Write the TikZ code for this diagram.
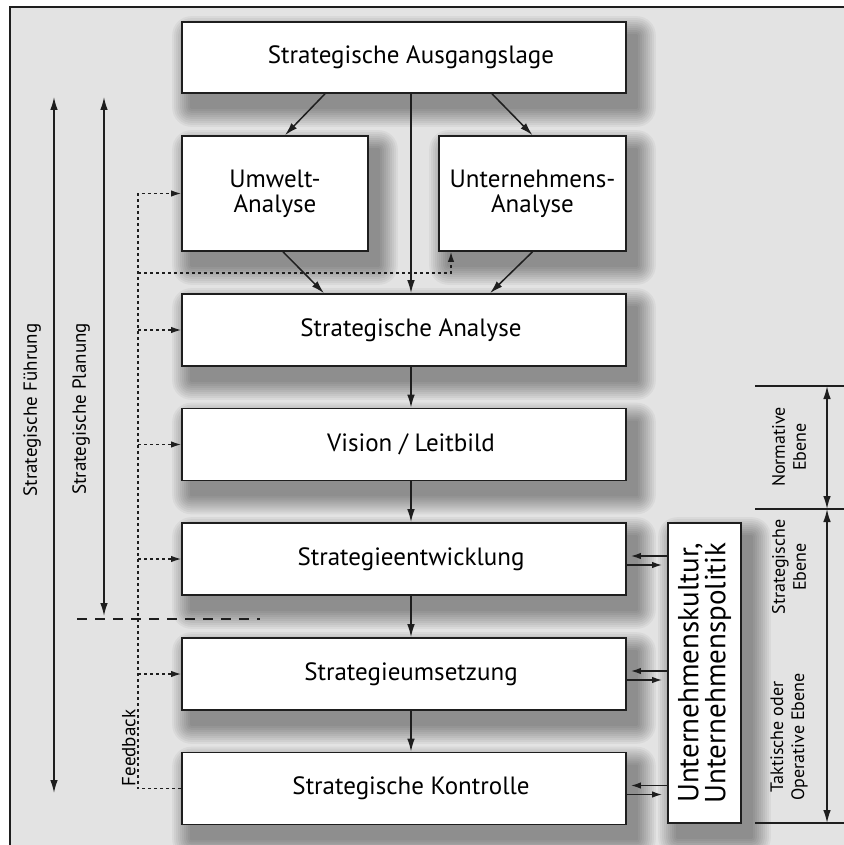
\documentclass[tikz,border=0pt]{standalone}
\usepackage{fontspec}
\setmainfont{PT Sans}
\usetikzlibrary{arrows.meta}
\pgfdeclarelayer{frame}
\pgfdeclarelayer{shade}
\pgfsetlayers{frame,shade,main}
\definecolor{bg}{HTML}{E3E3E3}
\definecolor{ink}{HTML}{1E1E1E}
% soft drop shadow built from stacked translucent rectangles
\newcommand\softshadow[1]{%
  \foreach \r in {0.5,1.5,...,10.0}{%
    \fill[black, opacity=0.045, rounded corners=\r pt]
      ([shift={(5pt-\r pt,-7pt-\r pt)}]#1.south west) rectangle
      ([shift={(5pt+\r pt,-7pt+\r pt)}]#1.north east);
  }%
}
\begin{document}
\begin{tikzpicture}[x=0.5pt,y=-0.5pt,
  box/.style={draw=ink, line width=0.8pt, fill=white, inner sep=0pt, align=center,
    font=\fontsize{12.5}{12.5}\selectfont},
  boxtext/.style={font=\fontsize{12.5}{12.5}\selectfont, inner sep=0pt},
  sidetext/.style={rotate=90, align=center, inner sep=0pt, font=\fontsize{9}{10.5}\selectfont},
  arr/.style={draw=ink, line width=0.75pt, -{Latex[length=6.5pt,width=3.8pt]}},
  darr/.style={draw=ink, line width=0.75pt, {Latex[length=6.5pt,width=3.8pt]}-{Latex[length=6.5pt,width=3.8pt]}},
  smallarr/.style={draw=ink, line width=0.75pt, -{Latex[length=5pt,width=3.2pt]}},
  fbline/.style={draw=ink, line width=0.7pt, dash pattern=on 1.6pt off 1.4pt},
  fbarr/.style={fbline, -{Latex[length=5pt,width=3.2pt]}},
  cut/.style={draw=ink, line width=0.7pt, dash pattern=on 5pt off 4pt},
  tick/.style={draw=ink, line width=0.7pt}
]
\useasboundingbox (0,0) rectangle (843,845);

% frame
\begin{pgfonlayer}{frame}
\fill[white] (0,0) rectangle (843,845);
\draw[fill=bg, draw=ink, line width=1.2pt] (10,7) rectangle (852,854);
\end{pgfonlayer}

% process boxes
\node[box, minimum width=222pt, minimum height=35.5pt,
  label={[boxtext,xshift=3.5pt]center:Strategische Ausgangslage}] (aus) at (404,57.5) {};
\node[box, minimum width=93pt, minimum height=57.5pt] (umw) at (275,193.5) {Umwelt-\\Analyse};
\node[box, minimum width=93.5pt, minimum height=57.5pt] (unt) at (532.5,193.5) {Unternehmens-\\Analyse};
\node[box, minimum width=222pt, minimum height=36pt,
  label={[boxtext,xshift=3.5pt]center:Strategische Analyse}] (ana) at (404,330) {};
\node[box, minimum width=222pt, minimum height=36pt,
  label={[boxtext,xshift=3.5pt]center:Vision / Leitbild}] (vis) at (404,444.5) {};
\node[box, minimum width=222pt, minimum height=36pt,
  label={[boxtext,xshift=3.5pt]center:Strategieentwicklung}] (ent) at (404,559) {};
\node[box, minimum width=222pt, minimum height=36pt,
  label={[boxtext,xshift=3.5pt]center:Strategieumsetzung}] (ums) at (404,674) {};
\node[box, minimum width=222pt, minimum height=36pt,
  label={[boxtext,xshift=3.5pt]center:Strategische Kontrolle}] (kon) at (404,788.5) {};
\node[box, minimum width=36.5pt, minimum height=150pt,
  label={[rotate=90, align=center, inner sep=0pt, font=\fontsize{14.5}{13.5}\selectfont]center:Unternehmenskultur,\\Unternehmenspolitik}] (kul) at (704.5,673) {};

\begin{pgfonlayer}{shade}
\foreach \b in {aus,umw,unt,ana,vis,ent,ums,kon,kul}{\softshadow{\b}}
\end{pgfonlayer}

% main flow
\draw[arr] ([xshift=-39.5pt]aus.south) -- ([xshift=5pt]umw.north);
\draw[arr] ([xshift=44pt]aus.south) -- (unt.north);
\draw[arr] ([xshift=3.5pt]aus.south) -- ([xshift=3.5pt]ana.north);
\draw[arr] ([xshift=4pt]umw.south) -- ([xshift=-40pt]ana.north);
\draw[arr] (unt.south) -- ([xshift=43pt]ana.north);
\draw[arr] ([xshift=3.5pt]ana.south) -- ([xshift=3.5pt]vis.north);
\draw[arr] ([xshift=3.5pt]vis.south) -- ([xshift=3.5pt]ent.north);
\draw[arr] ([xshift=3.5pt]ent.south) -- ([xshift=3.5pt]ums.north);
\draw[arr] ([xshift=3.5pt]ums.south) -- ([xshift=3.5pt]kon.north);

% exchange with culture / policy
\foreach \b in {ent,ums,kon}{
  \draw[smallarr] ([yshift=1.5pt]kul.west |- \b.east) -- ([xshift=2pt,yshift=1.5pt]\b.east);
  \draw[smallarr] ([yshift=-3pt]\b.east) -- ([xshift=-2.5pt,yshift=-3pt]kul.west |- \b.east);
}

% feedback loop
\coordinate (fbx) at (138,0);
\coordinate (fbc) at (451,273);
\draw[fbarr] (kon.west) -- (kon.west -| fbx) -- (fbx |- umw.west) -- (umw.west);
\foreach \b in {ana,vis,ent,ums}{
  \draw[fbarr] (fbx |- \b.west) -- (\b.west);
}
\draw[fbarr] (fbx |- fbc) -- (fbc) -- ([xshift=-40.75pt]unt.south);
\node[sidetext, anchor=south, font=\fontsize{9.5}{11}\selectfont] (fbl) at (136,748) {Feedback};

% leadership / planning spans
\coordinate (fuT) at (54,97);
\coordinate (fuB) at (54,793);
\coordinate (plT) at (104,97);
\coordinate (plB) at (104,616);
\draw[darr] (fuT) -- (fuB);
\draw[darr] (plT) -- (plB);
\node[sidetext, font=\fontsize{9.5}{11}\selectfont] (ful) at (32,410) {Strategische Führung};
\node[sidetext, font=\fontsize{9.5}{11}\selectfont] (pll) at (81,409) {Strategische Planung};
\coordinate (cutA) at (77,619);
\coordinate (cutB) at (260,619);
\draw[cut] (cutA) -- (cutB);

% levels on the right
\coordinate (l1) at (755,386);
\coordinate (l2) at (755,509);
\coordinate (l3) at (755,823);
\draw[tick] (l1) -- (l1 -| 852,0);
\draw[tick] (l2) -- (l2 -| 852,0);
\draw[tick] (l3) -- (l3 -| 852,0);
\draw[darr] ([xshift=36pt]l1) -- ([xshift=36pt]l2);
\draw[darr] ([xshift=36pt]l2) -- ([xshift=36pt]l3);
\node[sidetext] (nrm) at (789,447) {Normative\\Ebene};
\node[sidetext] (str) at (789,567) {Strategische\\Ebene};
\node[sidetext] (tak) at (789,737) {Taktische oder\\Operative Ebene};
\end{tikzpicture}
\end{document}
